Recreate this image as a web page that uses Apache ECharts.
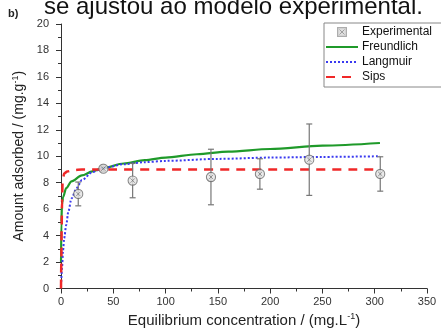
<!DOCTYPE html>
<html><head><meta charset="utf-8">
<script src="https://cdn.jsdelivr.net/npm/echarts@6/dist/echarts.min.js"></script>
<style>html,body{margin:0;padding:0;background:#fff}#c{width:441px;height:333px}</style>
</head><body><div id="c"></div>
<script>
// ---- data ----
const expX   = [16.5, 40.5, 68.5, 143.4, 190.2, 237.4, 305.3];
const expY   = [7.15, 9.06, 8.16, 8.43, 8.66, 9.74, 8.66];
const expErr = [0.9, 0.2, 1.3, 2.1, 1.15, 2.7, 1.3];

const freundX = [0.05, 0.3, 1, 2, 5, 10, 20, 30, 40, 60, 80, 100, 130, 160, 200, 250, 305];
const freundY = [2.0, 5.0, 6.4, 6.9, 7.6, 8.1, 8.55, 8.85, 9.1, 9.45, 9.7, 9.9, 10.15, 10.35, 10.55, 10.8, 11.0];

const langX = [0.2, 1, 2, 3, 5, 7, 10, 15, 20, 30, 40, 60, 80, 100, 150, 200, 250, 305];
const langY = [0.5, 1.6, 2.9, 3.8, 4.8, 5.8, 6.8, 7.6, 8.2, 8.8, 9.1, 9.4, 9.55, 9.65, 9.8, 9.9, 9.95, 10.0];

const sipsX = [0, 0.3, 0.6, 1, 1.5, 3, 6, 12, 20, 50, 100, 200, 305];
const sipsY = [0, 2.0, 4.5, 6.5, 8.0, 8.7, 8.85, 8.95, 9.0, 9.0, 9.0, 9.0, 9.0];

const seriesNames = ['Experimental', 'Freundlich', 'Langmuir', 'Sips'];
const xTicks = {min: 0, max: 350, step: 50};
const yTicks = {min: 0, max: 20, step: 2};

// ---- helpers ----
const zip = (a, b) => a.map((v, i) => [v, b[i]]);
const markerSvg = "<svg xmlns='http://www.w3.org/2000/svg' width='12' height='12'><circle cx='6' cy='6' r='5' fill='#e4e4e4' stroke='#6a6a6a' stroke-width='1.2'/><path d='M3.6 3.6L8.4 8.4M8.4 3.6L3.6 8.4' stroke='#7a7a7a' stroke-width='1'/></svg>";
const legSvg = "<svg xmlns='http://www.w3.org/2000/svg' width='8' height='8'><rect x='0.5' y='0.5' width='7' height='7' fill='#d8d8d8' stroke='#999' stroke-width='1'/><path d='M2 2L6 6M6 2L2 6' stroke='#888' stroke-width='0.8'/></svg>";
const marker = 'image://data:image/svg+xml;charset=utf-8,' + encodeURIComponent(markerSvg);
const legIcon = 'image://data:image/svg+xml;charset=utf-8,' + encodeURIComponent(legSvg);

const chart = echarts.init(document.getElementById('c'), null, {renderer: 'canvas'});
const FONT = 'Liberation Sans, Arial, sans-serif';
const hideSym = {opacity: 0};

chart.setOption({
  animation: false,
  textStyle: {fontFamily: FONT},
  grid: {left: 61, right: 14, top: 24, bottom: 44},
  graphic: [
    {type: 'text', left: 44, top: -5, style: {text: 'se ajustou ao modelo experimental.', font: '24px ' + FONT, fill: '#111'}},
    {type: 'text', left: 8, top: 8, style: {text: 'b)', font: 'bold 11px ' + FONT, fill: '#222'}}
  ],
  legend: {
    data: [
      {name: 'Experimental', icon: legIcon},
      {name: 'Freundlich', itemStyle: hideSym},
      {name: 'Langmuir', itemStyle: hideSym},
      {name: 'Sips', itemStyle: hideSym}
    ],
    orient: 'vertical', left: 324, top: 23,
    itemWidth: 32, itemHeight: 10, itemGap: 3,
    padding: [3, 14, 4, 1],
    borderColor: '#888', borderWidth: 1,
    textStyle: {fontSize: 12, color: '#111', fontFamily: FONT, padding: [0, 0, 0, -1]}
  },
  xAxis: {
    type: 'value', min: xTicks.min, max: xTicks.max, interval: xTicks.step,
    name: 'Equilibrium concentration / (mg.L{sup|-1})',
    nameLocation: 'middle', nameGap: 24,
    nameTextStyle: {fontSize: 15, color: '#222', rich: {sup: {fontSize: 9, verticalAlign: 'top', padding: [0, 0, 7, 0]}}},
    axisLine: {lineStyle: {color: '#333', width: 1}},
    axisTick: {length: 5, lineStyle: {color: '#333'}},
    minorTick: {show: true, splitNumber: 2, length: 3, lineStyle: {color: '#333'}},
    splitLine: {show: false},
    axisLabel: {fontSize: 11, color: '#333', margin: 8}
  },
  yAxis: {
    type: 'value', min: yTicks.min, max: yTicks.max, interval: yTicks.step,
    name: 'Amount adsorbed / (mg.g{sup|-1})',
    nameLocation: 'middle', nameGap: 30,
    nameTextStyle: {fontSize: 14, color: '#222', rich: {sup: {fontSize: 9, verticalAlign: 'top', padding: [0, 0, 7, 0]}}},
    axisLine: {show: true, lineStyle: {color: '#333', width: 1}},
    axisTick: {show: true, length: 5, lineStyle: {color: '#333'}},
    minorTick: {show: true, splitNumber: 2, length: 3, lineStyle: {color: '#333'}},
    splitLine: {show: false},
    axisLabel: {fontSize: 11, color: '#333', margin: 12}
  },
  series: [
    {
      name: 'Experimental', type: 'scatter', symbol: marker, symbolSize: 11, z: 5,
      data: zip(expX, expY), itemStyle: {color: '#aaa'}
    },
    {
      name: 'errbars', type: 'custom', z: 4, silent: true,
      data: expX.map((x, i) => [x, expY[i], expErr[i]]),
      renderItem: function (params, api) {
        const x = api.value(0), y = api.value(1), e = api.value(2);
        const top = api.coord([x, y + e]), bot = api.coord([x, y - e]);
        const st = {stroke: '#777', lineWidth: 1.2};
        return {type: 'group', children: [
          {type: 'line', shape: {x1: top[0], y1: top[1], x2: bot[0], y2: bot[1]}, style: st},
          {type: 'line', shape: {x1: top[0] - 3, y1: top[1], x2: top[0] + 3, y2: top[1]}, style: st},
          {type: 'line', shape: {x1: bot[0] - 3, y1: bot[1], x2: bot[0] + 3, y2: bot[1]}, style: st}
        ]};
      }
    },
    {
      name: 'Freundlich', type: 'line', symbol: 'none', smooth: 0.3, smoothMonotone: 'x', z: 3,
      data: zip(freundX, freundY), itemStyle: {color: '#1f9a2a'},
      lineStyle: {color: '#1f9a2a', width: 2.2}
    },
    {
      name: 'Langmuir', type: 'line', symbol: 'none', smooth: 0.3, smoothMonotone: 'x', z: 3,
      data: zip(langX, langY), itemStyle: {color: '#3a3af0'},
      lineStyle: {color: '#3a3af0', width: 2, type: [2, 2]}
    },
    {
      name: 'Sips', type: 'line', symbol: 'none', smooth: 0.3, smoothMonotone: 'x', z: 3,
      data: zip(sipsX, sipsY), itemStyle: {color: '#f02828'},
      lineStyle: {color: '#f02828', width: 2.5, type: [9, 7]}
    }
  ]
});
</script></body></html>
